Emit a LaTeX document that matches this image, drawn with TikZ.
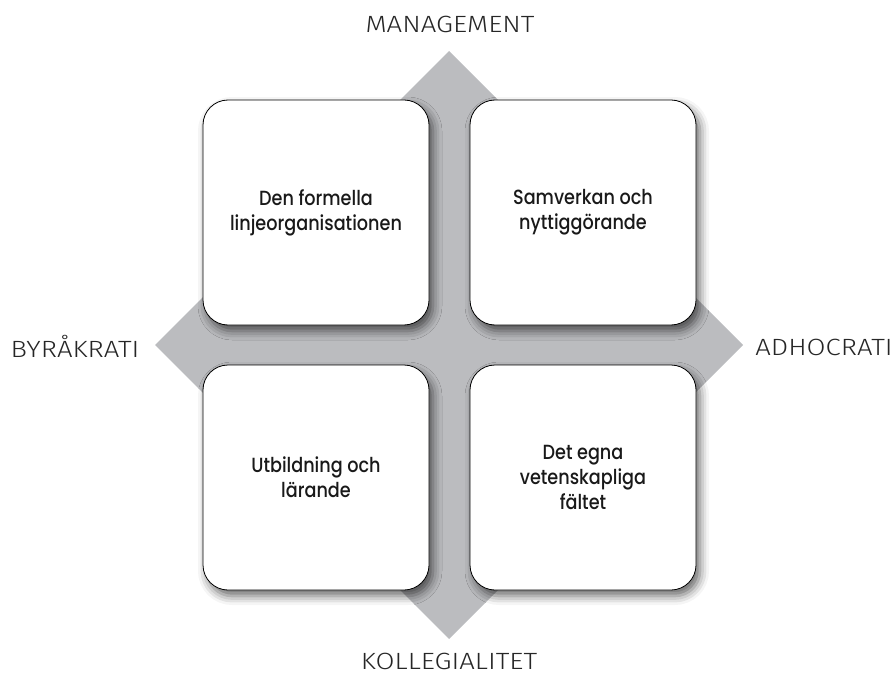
\documentclass[tikz,border=0pt]{standalone}
\usepackage{fontspec}
\setmainfont{Poppins}
\newfontfamily\boxfont{Poppins Medium}[FakeStretch=0.86]
\newfontfamily\axisfont{Fira Sans Light}[FakeStretch=1.17]
\usetikzlibrary{shadows.blur}

\definecolor{crossgray}{HTML}{BBBCBF}

\tikzset{
  quadrant/.style={
    draw=black, line width=0.8pt, fill=white,
    rounded corners=25pt,
    minimum width=226pt, minimum height=225pt,
    align=center, inner sep=4pt,
    font=\boxfont\fontsize{20.5}{25}\selectfont, text=black!90,
    blur shadow={shadow xshift=4pt, shadow yshift=-6pt,
                 shadow blur radius=9pt, shadow opacity=60}
  },
  axislabel/.style={
    font=\axisfont\fontsize{23.5}{26}\selectfont, text=black!85,
    inner sep=0pt, anchor=base
  }
}

\begin{document}
\begin{tikzpicture}[x=1pt, y=-1pt]
  \useasboundingbox (0,0) rectangle (893,676);

  % the grey cross of the two axes
  \coordinate (top)    at (449,51);
  \coordinate (right)  at (743,345);
  \coordinate (bottom) at (449,639);
  \coordinate (left)   at (155,345);
  \fill[crossgray] (top) -- (right) -- (bottom) -- (left) -- cycle;

  % the four fields
  \node[quadrant] (ul) at (316,212.5) {Den formella\\linjeorganisationen};
  \node[quadrant] (ur) at (583,212.5) {Samverkan och\\nyttiggörande};
  \node[quadrant] (ll) at (316,477.5) {Utbildning och\\lärande};
  \node[quadrant] (lr) at (583,477.5) {Det egna\\vetenskapliga\\fältet};

  % axis names, placed by their baselines
  \node[axislabel] (mgmt) at (450,33)  {MANAGEMENT};
  \node[axislabel] (byr)  at (75,357)  {BYRÅKRATI};
  \node[axislabel] (adh)  at (824,355) {ADHOCRATI};
  \node[axislabel] (kol)  at (449,669) {KOLLEGIALITET};
\end{tikzpicture}
\end{document}
